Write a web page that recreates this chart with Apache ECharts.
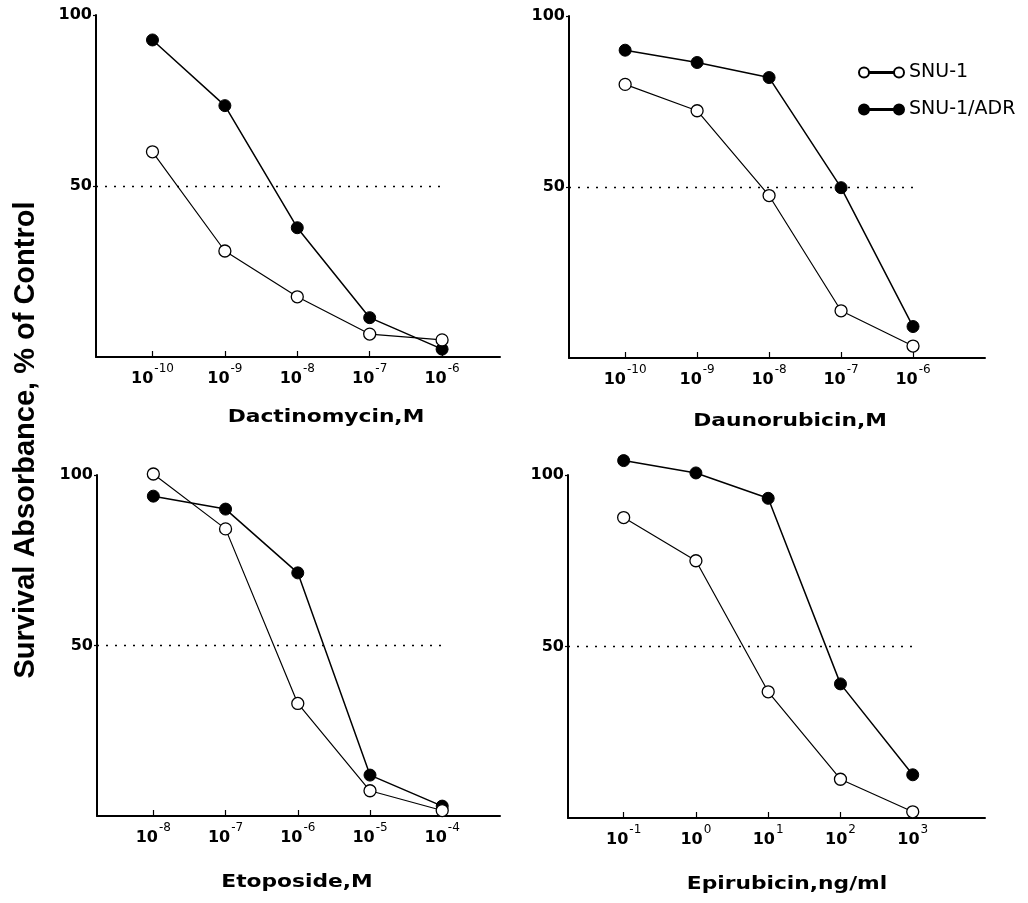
<!DOCTYPE html>
<html>
<head>
<meta charset="utf-8">
<script src="https://cdn.jsdelivr.net/npm/echarts@6/dist/echarts.min.js"></script>
<style>
html, body { margin: 0; padding: 0; background: #fff; }
#chart { width: 1028px; height: 903px; }
</style>
</head>
<body>
<div id="chart"></div>
<script>
// data (x = log10 of dose, y = % of control)
var seriesNames = ['SNU-1', 'SNU-1/ADR'];
var panelTitles = ['Dactinomycin,M', 'Daunorubicin,M', 'Etoposide,M', 'Epirubicin,ng/ml'];
var yTitle = 'Survival Absorbance, % of Control';
var yTickValues = [50, 100];
var refLevel = 50;

var dactDose = [-10, -9, -8, -7, -6];
var dactSnu1 = [60, 31, 17.6, 6.7, 5];
var dactAdr = [92.7, 73.5, 37.8, 11.5, 2.3];

var daunoDose = [-10, -9, -8, -7, -6];
var daunoSnu1 = [80, 72.3, 47.5, 13.8, 3.5];
var daunoAdr = [90, 86.4, 82, 49.8, 9.2];

var etoDose = [-8, -7, -6, -5, -4];
var etoSnu1 = [100.3, 84.2, 33, 7.4, 1.6];
var etoAdr = [93.8, 90, 71.3, 12, 2.9];

var epiDose = [-1, 0, 1, 2, 3];
var epiSnu1 = [87.6, 75, 36.8, 11.3, 1.8];
var epiAdr = [104.2, 100.6, 93.2, 39.1, 12.6];

var panels = [
	{ dose: dactDose, snu1: dactSnu1, adr: dactAdr },
	{ dose: daunoDose, snu1: daunoSnu1, adr: daunoAdr },
	{ dose: etoDose, snu1: etoSnu1, adr: etoAdr },
	{ dose: epiDose, snu1: epiSnu1, adr: epiAdr }
];

// layout
var grids = [
	{ left: 96, top: 15, width: 404, height: 342 },
	{ left: 569, top: 16, width: 416, height: 342 },
	{ left: 97, top: 475, width: 403, height: 341 },
	{ left: 568, top: 475, width: 417, height: 343 }
];
var xRanges = [[-10.78, -5.2], [-10.78, -5.0], [-8.78, -3.2], [-1.77, 4.0]];
var titlePos = [[326, 418], [790, 422], [297, 883], [787, 885]];

var tickFont = 'DejaVu Sans';

var myChart = echarts.init(document.getElementById('chart'));

var xAxes = [], yAxes = [], series = [], graphics = [];

panels.forEach(function (p, i) {
	xAxes.push({
		type: 'value',
		gridIndex: i,
		min: xRanges[i][0],
		max: xRanges[i][1],
		splitLine: { show: false },
		axisLine: { onZero: false, lineStyle: { color: '#000', width: 2 } },
		axisTick: {
			customValues: p.dose,
			inside: true,
			length: 6,
			lineStyle: { color: '#000', width: 1.2 }
		},
		axisLabel: {
			customValues: p.dose,
			margin: 6,
			formatter: function (v) {
				return '{b|10}{s|' + v + '}';
			},
			rich: {
				b: { fontFamily: tickFont, fontWeight: 'bold', fontSize: 16, color: '#000', lineHeight: 24, verticalAlign: 'bottom' },
				s: { fontFamily: tickFont, fontSize: 12, color: '#000', lineHeight: 12, verticalAlign: 'top', padding: [0, 0, 0, 1] }
			}
		}
	});
	yAxes.push({
		type: 'value',
		gridIndex: i,
		min: 0,
		max: 100,
		splitLine: { show: false },
		axisLine: { show: true, onZero: false, lineStyle: { color: '#000', width: 2 } },
		axisTick: {
			show: true,
			customValues: yTickValues,
			length: 3,
			lineStyle: { color: '#000', width: 1.2 }
		},
		axisLabel: {
			customValues: yTickValues,
			margin: 4,
			fontFamily: tickFont,
			fontWeight: 'bold',
			fontSize: 16,
			color: '#000'
		}
	});

	var lastDose = p.dose[p.dose.length - 1];
	series.push({
		name: seriesNames[1],
		type: 'line',
		xAxisIndex: i,
		yAxisIndex: i,
		clip: false,
		symbol: 'circle',
		symbolSize: 12,
		data: p.dose.map(function (d, k) { return [d, p.adr[k]]; }),
		itemStyle: { color: '#000', borderColor: '#000', borderWidth: 1 },
		lineStyle: { color: '#000', width: 1.5 },
		emphasis: { disabled: true }
	});
	series.push({
		name: seriesNames[0],
		type: 'line',
		xAxisIndex: i,
		yAxisIndex: i,
		clip: false,
		symbol: 'circle',
		symbolSize: 12,
		data: p.dose.map(function (d, k) { return [d, p.snu1[k]]; }),
		itemStyle: { color: '#fff', borderColor: '#000', borderWidth: 1.3 },
		lineStyle: { color: '#000', width: 1.2 },
		emphasis: { disabled: true },
		markLine: {
			silent: true,
			symbol: 'none',
			label: { show: false },
			lineStyle: { color: '#000', width: 1.3, type: [2, 7] },
			data: [[{ coord: [xRanges[i][0], refLevel] }, { coord: [lastDose, refLevel] }]]
		}
	});

	graphics.push({
		type: 'text',
		x: titlePos[i][0],
		y: titlePos[i][1],
		scaleX: 1.28,
		style: {
			text: panelTitles[i],
			font: 'bold 17px "DejaVu Sans"',
			fill: '#000',
			textAlign: 'center',
			textVerticalAlign: 'middle'
		}
	});
});

graphics.push({
	type: 'text',
	x: 26,
	y: 440,
	rotation: Math.PI / 2,
	style: {
		text: yTitle,
		font: 'bold 29px "Liberation Sans"',
		fill: '#000',
		textAlign: 'center',
		textVerticalAlign: 'middle'
	}
});

var option = {
	animation: false,
	backgroundColor: '#fff',
	grid: grids,
	xAxis: xAxes,
	yAxis: yAxes,
	legend: {
		orient: 'vertical',
		left: 853,
		top: 58,
		itemWidth: 45,
		itemHeight: 10,
		itemGap: 18,
		selectedMode: false,
		icon: 'path://M0,5a5,5 0 1,0 10,0a5,5 0 1,0 -10,0zM10,4.4h25v1.2h-25zM35,5a5,5 0 1,0 10,0a5,5 0 1,0 -10,0z',
		data: seriesNames,
		textStyle: { fontFamily: 'DejaVu Sans', fontSize: 19, color: '#000' }
	},
	graphic: graphics,
	series: series
};

myChart.setOption(option);
</script>
</body>
</html>
